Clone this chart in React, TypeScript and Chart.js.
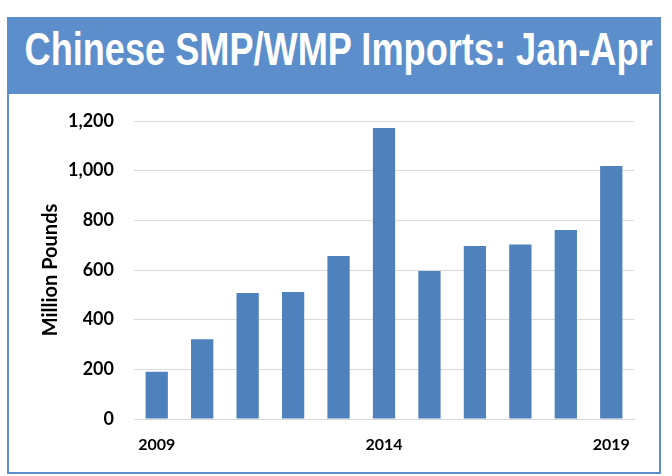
import React, { useEffect, useRef } from "react";
import { Chart, registerables } from "chart.js";

Chart.register(...registerables);

const years = ["2009", "2010", "2011", "2012", "2013", "2014", "2015", "2016", "2017", "2018", "2019"];
const imports = [190, 321, 507, 511, 656, 1172, 596, 697, 703, 761, 1019];
const shownYears = ["2009", "2014", "2019"];
const titleText = "Chinese SMP/WMP Imports: Jan-Apr";
const yAxisTitle = "Million Pounds";

const BLUE = "#5b8ecb";
const BAR = "#4f81bd";

export default function App() {
  const ref = useRef<HTMLCanvasElement | null>(null);
  const titleRef = useRef<HTMLSpanElement | null>(null);
  useEffect(() => {
    if (titleRef.current) {
      const w = titleRef.current.offsetWidth;
      if (w > 0) titleRef.current.style.transform = `scaleX(${628 / w})`;
    }
    if (!ref.current) return;
    const chart = new Chart(ref.current, {
      type: "bar",
      data: {
        labels: years,
        datasets: [
          {
            label: "Imports",
            data: imports,
            backgroundColor: BAR,
            barPercentage: 0.49,
            categoryPercentage: 1,
          },
        ],
      },
      options: {
        responsive: false,
        animation: false,
        layout: { padding: { left: 30, right: 25, top: 27, bottom: 0 } },
        plugins: { legend: { display: false }, tooltip: { enabled: false } },
        scales: {
          x: {
            grid: { display: false, drawTicks: false },
            border: { display: true, color: "#d9d9d9", width: 1 },
            ticks: {
              autoSkip: false,
              maxRotation: 0,
              padding: 16,
              color: "#000",
              font: { family: "Lato", weight: "bold", size: 16 },
              callback: (v: any, i: number) => (shownYears.includes(years[i]) ? years[i] : ""),
            },
            afterFit: (s: any) => {
              s.height = 53;
              s.paddingLeft = 0;
              s.paddingRight = 0;
            },
          },
          y: {
            min: 0,
            max: 1200,
            ticks: {
              stepSize: 200,
              padding: 20,
              color: "#000",
              font: { family: "Lato", weight: "bold", size: 18 },
              callback: (v: any) => Number(v).toLocaleString("en-US"),
            },
            grid: { color: "#d9d9d9", drawTicks: false },
            border: { display: false },
            title: {
              display: true,
              text: yAxisTitle,
              color: "#000",
              font: { family: "Lato", weight: "bold", size: 20 },
              padding: { top: 0, bottom: 0 },
            },
            afterFit: (s: any) => {
              s.width = 95;
              s.paddingTop = 0;
              s.paddingBottom = 0;
            },
          },
        },
      },
    });
    return () => chart.destroy();
  }, []);

  return (
    <div
      style={{
        position: "absolute",
        left: 7,
        top: 17,
        width: 650,
        border: `2px solid ${BLUE}`,
        borderTop: "none",
        boxSizing: "content-box",
      }}
    >
      <div
        style={{
          background: BLUE,
          height: 77,
          marginLeft: -2,
          marginRight: -2,
          color: "#fff",
          display: "flex",
          alignItems: "center",
          justifyContent: "center",
          overflow: "hidden",
          boxSizing: "border-box",
          paddingBottom: 14,
        }}
      >
        <span
          ref={titleRef}
          style={{
            display: "inline-block",
            fontFamily: "'Liberation Sans', Arial, sans-serif",
            fontSize: 46,
            lineHeight: "52px",
            fontWeight: "bold",
            whiteSpace: "nowrap",
            transformOrigin: "center",
            marginLeft: 10,
          }}
        >
          {titleText}
        </span>
      </div>
      <canvas ref={ref} width={650} height={378} style={{ display: "block" }} />
    </div>
  );
}
